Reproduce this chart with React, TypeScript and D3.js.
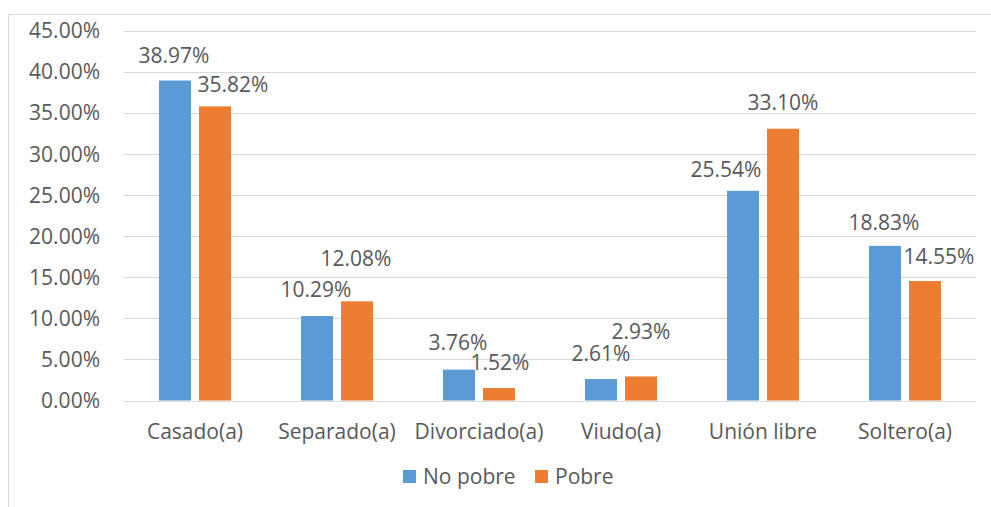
import React from "react";
import * as d3 from "d3";

const categories = ["Casado(a)", "Separado(a)", "Divorciado(a)", "Viudo(a)", "Unión libre", "Soltero(a)"];
const seriesNames = ["No pobre", "Pobre"];
const noPobre = [38.97, 10.29, 3.76, 2.61, 25.54, 18.83];
const pobre = [35.82, 12.08, 1.52, 2.93, 33.1, 14.55];
const yTicks = [0, 5, 10, 15, 20, 25, 30, 35, 40, 45];

// label offsets (layout) relative to bar center / bar top
const labelOffNo = [[-1, -25], [-1, -26], [-1, -27], [0, -25], [-17, -21], [-1, -23]];
const labelOffPo = [[18, -22], [-1, -43], [1, -25], [0, -45], [0, -26], [14, -24]];

const colors = ["#5B9BD5", "#ED7D31"];
const FONT = "'Open Sans', sans-serif";
const TXT = "#595959";
const FS = 21;

export default function App() {
  const W = 991, H = 507;
  const left = 124, right = 976, top = 31, bottom = 400.5;
  const x = d3.scaleBand().domain(categories).range([left, right]);
  const y = d3.scaleLinear().domain([0, 45]).range([bottom, top]);
  const bw = 32, gap = 8;
  const series = [noPobre, pobre];
  const offs = [labelOffNo, labelOffPo];
  return (
    <svg width={W} height={H} style={{ position: "absolute", left: 0, top: 0 }} fontFamily={FONT}>
      <rect x={0} y={0} width={W} height={H} fill="#fff" />
      <path d={`M8.5,${H} V14.5 H${W}`} fill="none" stroke="#D9D9D9" strokeWidth={1} />
      {yTicks.map((t) => (
        <g key={t}>
          <line x1={left} x2={right} y1={Math.round(y(t)) + 0.5} y2={Math.round(y(t)) + 0.5} stroke="#D9D9D9" strokeWidth={1} />
          <text x={100} y={y(t)} dy="0.35em" textAnchor="end" fontSize={FS} fill={TXT}>
            {t.toFixed(2) + "%"}
          </text>
        </g>
      ))}
      {categories.map((c, i) => {
        const cx = (x(c) as number) + x.bandwidth() / 2;
        return (
          <g key={c}>
            {series.map((s, k) => {
              const bx = k === 0 ? cx - gap / 2 - bw : cx + gap / 2;
              const v = s[i];
              const bcx = bx + bw / 2;
              return (
                <g key={k}>
                  <rect x={bx} y={y(v)} width={bw} height={bottom - y(v)} fill={colors[k]} />
                  <text x={bcx + offs[k][i][0]} y={y(v) + offs[k][i][1]} dy="0.35em" textAnchor="middle" fontSize={FS} fill={TXT}>
                    {v.toFixed(2) + "%"}
                  </text>
                </g>
              );
            })}
            <text x={cx} y={432} dy="0.35em" textAnchor="middle" fontSize={FS} fill={TXT}>{c}</text>
          </g>
        );
      })}
      <g>
        <rect x={403} y={470} width={13} height={13} fill={colors[0]} />
        <text x={423} y={476.5} dy="0.35em" fontSize={FS} fill={TXT}>{seriesNames[0]}</text>
        <rect x={535} y={470} width={13} height={13} fill={colors[1]} />
        <text x={555} y={476.5} dy="0.35em" fontSize={FS} fill={TXT}>{seriesNames[1]}</text>
      </g>
    </svg>
  );
}
